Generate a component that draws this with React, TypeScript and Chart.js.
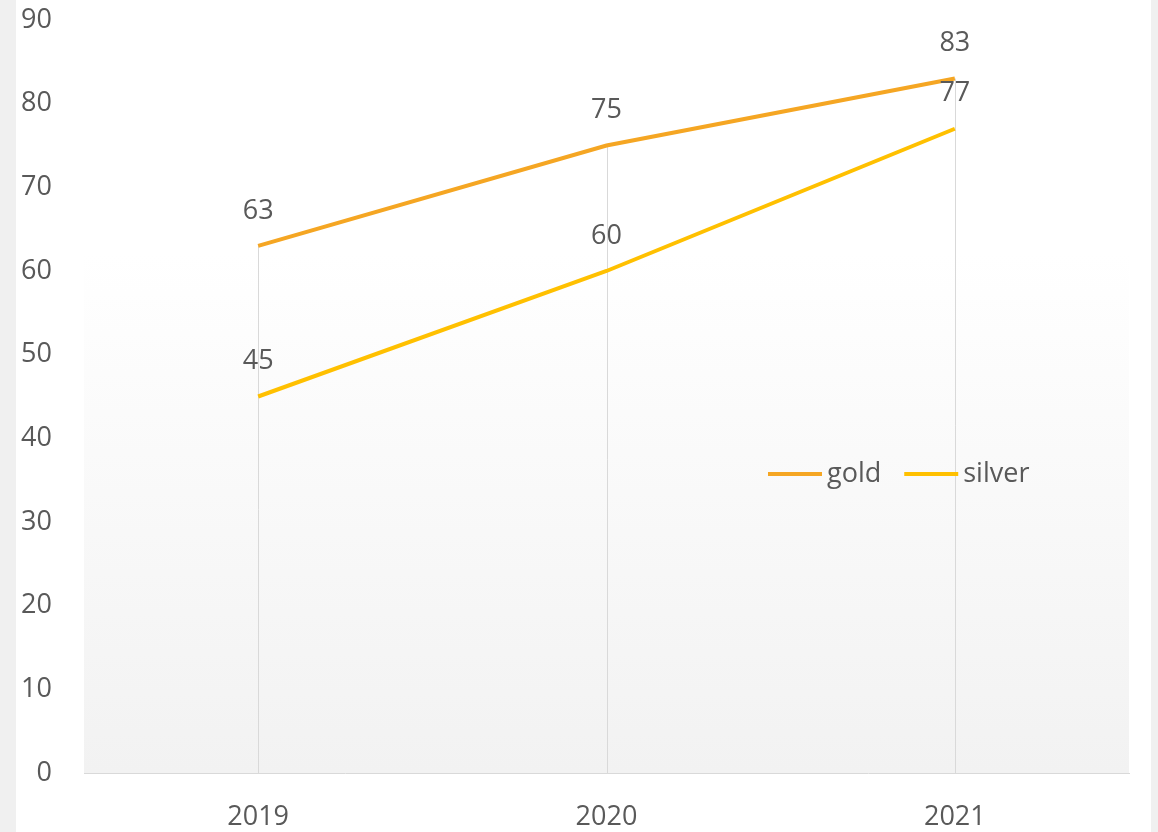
import React, { useEffect, useRef } from "react";
import { Chart, registerables } from "chart.js";

Chart.register(...registerables);

const categories = ["2019", "2020", "2021"];
const goldValues = [63, 75, 83];
const silverValues = [45, 60, 77];
const seriesNames = ["gold", "silver"];
const seriesColors = ["#F5A623", "#FFC000"];

const FONT = "'Open Sans', 'Noto Sans', sans-serif";
const TEXT = "#595959";

const plotBg = {
  id: "plotBg",
  beforeDraw(chart: any) {
    const { ctx, chartArea } = chart;
    const { left, right, top, bottom } = chartArea;
    const g = ctx.createLinearGradient(0, top, 0, bottom);
    g.addColorStop(0, "#ffffff");
    g.addColorStop(0.31, "#ffffff");
    g.addColorStop(1, "#f2f2f2");
    ctx.save();
    ctx.fillStyle = g;
    ctx.fillRect(left, top, right - left, bottom - top);
    ctx.restore();
  },
};

const dropLines = {
  id: "dropLines",
  beforeDatasetsDraw(chart: any) {
    const { ctx, scales } = chart;
    const y = scales.y;
    const x = scales.x;
    ctx.save();
    ctx.strokeStyle = "#d9d9d9";
    ctx.lineWidth = 1;
    categories.forEach((_, i) => {
      let max = -Infinity;
      chart.data.datasets.forEach((ds: any) => {
        if (ds.data[i] > max) max = ds.data[i];
      });
      const px = Math.round(x.getPixelForValue(i)) + 0.5;
      ctx.beginPath();
      ctx.moveTo(px, y.getPixelForValue(max));
      ctx.lineTo(px, y.getPixelForValue(0));
      ctx.stroke();
    });
    ctx.restore();
  },
};

const dataLabels = {
  id: "dataLabels",
  afterDatasetsDraw(chart: any) {
    const { ctx } = chart;
    ctx.save();
    ctx.fillStyle = TEXT;
    ctx.font = `27px ${FONT}`;
    ctx.textAlign = "center";
    ctx.textBaseline = "middle";
    chart.data.datasets.forEach((ds: any, di: number) => {
      const meta = chart.getDatasetMeta(di);
      meta.data.forEach((pt: any, i: number) => {
        ctx.fillText(String(ds.data[i]), pt.x, pt.y - 35);
      });
    });
    ctx.restore();
  },
};

const insideLegend = {
  id: "insideLegend",
  afterDraw(chart: any) {
    const { ctx, chartArea } = chart;
    const yMid = chartArea.top + 454;
    let xPos = chartArea.left + 684;
    ctx.save();
    ctx.font = `27px ${FONT}`;
    ctx.textBaseline = "middle";
    ctx.textAlign = "left";
    chart.data.datasets.forEach((ds: any) => {
      ctx.strokeStyle = ds.borderColor;
      ctx.lineWidth = 4;
      ctx.beginPath();
      ctx.moveTo(xPos, yMid);
      ctx.lineTo(xPos + 54, yMid);
      ctx.stroke();
      ctx.fillStyle = TEXT;
      ctx.fillText(ds.label, xPos + 59, yMid);
      const w = ctx.measureText(ds.label).width;
      xPos += 59 + w + 23;
    });
    ctx.restore();
  },
};

export default function App() {
  const ref = useRef<HTMLCanvasElement>(null);
  useEffect(() => {
    document.body.style.margin = "0";
    const chart = new Chart(ref.current as HTMLCanvasElement, {
      type: "line",
      data: {
        labels: categories,
        datasets: [
          {
            label: seriesNames[0],
            data: goldValues,
            borderColor: seriesColors[0],
            backgroundColor: seriesColors[0],
            borderWidth: 4,
            pointRadius: 0,
            tension: 0,
          },
          {
            label: seriesNames[1],
            data: silverValues,
            borderColor: seriesColors[1],
            backgroundColor: seriesColors[1],
            borderWidth: 4,
            pointRadius: 0,
            tension: 0,
          },
        ],
      },
      options: {
        animation: false,
        responsive: false,
        maintainAspectRatio: false,
        layout: { padding: { top: 20, right: 22, left: 0, bottom: 0 } },
        plugins: {
          legend: { display: false },
          tooltip: { enabled: false },
        },
        scales: {
          x: {
            offset: true,
            grid: { display: false, drawTicks: false },
            border: { display: true, color: "#d9d9d9", width: 1 },
            ticks: {
              color: TEXT,
              font: { family: FONT, size: 27 },
              padding: 28,
            },
            afterFit(axis: any) {
              axis.height = 59;
              axis.paddingLeft = 0;
              axis.paddingRight = 0;
            },
          },
          y: {
            min: 0,
            max: 90,
            grid: { display: false, drawTicks: false },
            border: { display: false },
            ticks: {
              stepSize: 10,
              color: TEXT,
              font: { family: FONT, size: 27 },
              padding: 32,
            },
            afterFit(axis: any) {
              axis.width = 68;
              axis.paddingTop = 0;
              axis.paddingBottom = 0;
            },
          },
        },
      },
      plugins: [plotBg, dropLines, dataLabels, insideLegend],
    });
    return () => chart.destroy();
  }, []);
  return (
    <div
      style={{
        position: "relative",
        width: 1158,
        height: 832,
        background: "#f0f0f0",
        overflow: "hidden",
      }}
    >
      <canvas
        ref={ref}
        width={1135}
        height={832}
        style={{ position: "absolute", left: 16, top: 0, width: 1135, height: 832, background: "#ffffff" }}
      />
    </div>
  );
}
